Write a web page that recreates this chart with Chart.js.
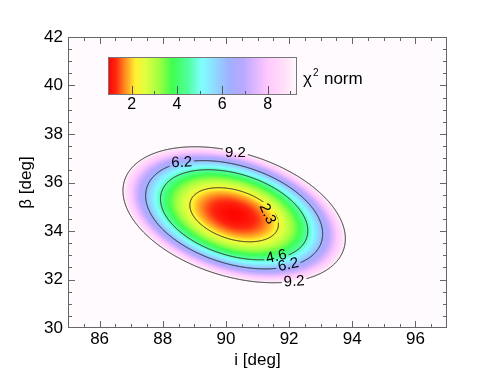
<!DOCTYPE html>
<html><head><meta charset="utf-8">
<script src="https://cdn.jsdelivr.net/npm/chart.js@4/dist/chart.umd.min.js"></script>
<style>html,body{margin:0;padding:0;background:#fff}#wrap{width:497px;height:382px}</style>
</head><body><div id="wrap"><canvas id="c" width="497" height="382"></canvas></div>
<script>
// ---- data ----
const inclination = [85, 86, 87, 88, 89, 90, 91, 92, 93, 94, 95, 96];   // grid columns, i [deg]
const beta = [30, 31, 32, 33, 34, 35, 36, 37, 38, 39];                   // grid rows, beta [deg]
const chi2_b30 = [64.27, 53.96, 45.17, 37.88, 32.10, 27.84, 25.08, 23.83, 24.09, 25.87, 29.15, 33.94];
const chi2_b31 = [50.83, 41.19, 33.06, 26.44, 21.33, 17.73, 15.64, 15.06, 15.99, 18.43, 22.39, 27.85];
const chi2_b32 = [39.76, 30.79, 23.33, 17.38, 12.94, 10.01, 8.58, 8.67, 10.27, 13.38, 18.00, 24.13];
const chi2_b33 = [31.08, 22.78, 15.98, 10.70, 6.93, 4.66, 3.91, 4.67, 6.93, 10.71, 16.00, 22.79];
const chi2_b34 = [24.78, 17.14, 11.02, 6.40, 3.30, 1.70, 1.62, 3.04, 5.98, 10.42, 16.38, 23.84];
const chi2_b35 = [20.86, 13.89, 8.44, 4.49, 2.05, 1.12, 1.71, 3.80, 7.40, 12.52, 19.14, 27.27];
const chi2_b36 = [19.32, 13.02, 8.24, 4.96, 3.19, 2.93, 4.18, 6.94, 11.21, 16.99, 24.28, 33.08];
const chi2_b37 = [20.17, 14.54, 10.42, 7.80, 6.70, 7.11, 9.03, 12.46, 17.40, 23.85, 31.81, 41.28];
const chi2_b38 = [23.40, 18.43, 14.98, 13.04, 12.60, 13.68, 16.27, 20.36, 25.97, 33.09, 41.71, 51.85];
const chi2_b39 = [29.01, 24.71, 21.93, 20.65, 20.88, 22.63, 25.88, 30.65, 36.92, 44.71, 54.00, 64.81];
const chi2 = [chi2_b30, chi2_b31, chi2_b32, chi2_b33, chi2_b34, chi2_b35, chi2_b36, chi2_b37, chi2_b38, chi2_b39];
const contourLevels = [2.3, 4.6, 6.2, 9.2];
const colorbarRange = [0.95, 9.3];
const colorbarTicks = [2, 4, 6, 8];
const xTickLabels = [86, 88, 90, 92, 94, 96];
const yTickLabels = [30, 32, 34, 36, 38, 40, 42];

// ---- styles ----
const FONT = "'Liberation Sans', Arial, Helvetica, sans-serif";
const cmapStops = [
  [0.95, 255, 0, 0], [1.3, 255, 40, 16], [1.7, 255, 140, 32], [2.15, 255, 240, 48],
  [2.6, 224, 255, 64], [3.2, 160, 255, 64], [3.8, 64, 255, 80], [4.5, 80, 255, 160],
  [5.1, 128, 255, 255], [5.7, 144, 216, 255], [6.3, 160, 176, 255], [6.9, 184, 168, 255],
  [7.5, 224, 184, 255], [8.0, 255, 200, 255], [8.75, 255, 224, 248], [9.3, 255, 250, 253]
];
const BG = [255, 250, 253];
function cmap(v) {
  if (!isFinite(v) || v >= cmapStops[cmapStops.length - 1][0]) return BG;
  if (v <= cmapStops[0][0]) return cmapStops[0].slice(1);
  for (let k = 1; k < cmapStops.length; k++) {
    const s1 = cmapStops[k];
    if (v <= s1[0]) {
      const s0 = cmapStops[k - 1];
      const t = (v - s0[0]) / (s1[0] - s0[0]);
      return [s0[1] + t * (s1[1] - s0[1]), s0[2] + t * (s1[2] - s0[2]), s0[3] + t * (s1[3] - s0[3])];
    }
  }
  return BG;
}
function cr(p0, p1, p2, p3, t) {
  return 0.5 * (2 * p1 + (-p0 + p2) * t + (2 * p0 - 5 * p1 + 4 * p2 - p3) * t * t + (-p0 + 3 * p1 - 3 * p2 + p3) * t * t * t);
}
function field(iv, bv) {
  const nx = inclination.length, ny = beta.length;
  const fx = (iv - inclination[0]) / (inclination[1] - inclination[0]);
  const fy = (bv - beta[0]) / (beta[1] - beta[0]);
  if (fx < 0 || fy < 0 || fx > nx - 1 || fy > ny - 1) return Infinity;
  let ix = Math.min(Math.floor(fx), nx - 2), iy = Math.min(Math.floor(fy), ny - 2);
  const tx = fx - ix, ty = fy - iy;
  const cl = (a, n) => Math.max(0, Math.min(n - 1, a));
  const rows = [];
  for (let r = -1; r <= 2; r++) {
    const row = chi2[cl(iy + r, ny)];
    rows.push(cr(row[cl(ix - 1, nx)], row[ix], row[ix + 1], row[cl(ix + 2, nx)], tx));
  }
  return cr(rows[0], rows[1], rows[2], rows[3], ty);
}

const contourLabels = [
  {text: '9.2', i: 90.3, b: 37.25, rot: 0},
  {text: '6.2', i: 88.6, b: 36.86, rot: -3},
  {text: '2.3', i: 91.34, b: 34.72, rot: 66},
  {text: '4.6', i: 91.59, b: 32.98, rot: -12},
  {text: '6.2', i: 91.97, b: 32.64, rot: -12},
  {text: '9.2', i: 92.16, b: 31.95, rot: -4}
];

const mapPlugin = {
  id: 'chi2map',
  beforeDatasetsDraw(chart) {
    const ctx = chart.ctx, a = chart.chartArea;
    const xs = chart.scales.x, ys = chart.scales.y;
    const L = Math.round(a.left), T = Math.round(a.top);
    const W = Math.round(a.right) - L, H = Math.round(a.bottom) - T;
    const off = document.createElement('canvas');
    off.width = W; off.height = H;
    const octx = off.getContext('2d');
    const img = octx.createImageData(W, H);
    const F = new Float64Array(W * H);
    for (let y = 0; y < H; y++) {
      const bv = ys.getValueForPixel(T + y + 0.5);
      for (let x = 0; x < W; x++) {
        const iv = xs.getValueForPixel(L + x + 0.5);
        const v = field(iv, bv);
        F[y * W + x] = isFinite(v) ? v : 1000;
        const c = cmap(v);
        const p = (y * W + x) * 4;
        img.data[p] = c[0]; img.data[p + 1] = c[1]; img.data[p + 2] = c[2]; img.data[p + 3] = 255;
      }
    }
    octx.putImageData(img, 0, 0);
    ctx.drawImage(off, L, T);

    // label boxes (gaps in contour lines)
    ctx.save();
    ctx.font = '15px ' + FONT;
    const boxes = contourLabels.map(l => {
      const cx = xs.getPixelForValue(l.i), cy = ys.getPixelForValue(l.b);
      const w = ctx.measureText(l.text).width + 4, h = 13;
      const ang = l.rot * Math.PI / 180, ca = Math.cos(ang), sa = Math.sin(ang);
      const pts = [[-w / 2, -h / 2], [w / 2, -h / 2], [w / 2, h / 2], [-w / 2, h / 2]].map(p => [cx + p[0] * ca - p[1] * sa, cy + p[0] * sa + p[1] * ca]);
      return {l, cx, cy, ang, pts};
    });
    ctx.beginPath();
    ctx.rect(a.left, a.top, a.right - a.left, a.bottom - a.top);
    boxes.forEach(bx => {
      ctx.moveTo(bx.pts[0][0], bx.pts[0][1]);
      for (let k = 1; k < 4; k++) ctx.lineTo(bx.pts[k][0], bx.pts[k][1]);
      ctx.closePath();
    });
    ctx.clip('evenodd');

    // contour lines (marching squares on the rendered field)
    ctx.strokeStyle = '#2a2a2a';
    ctx.lineWidth = 1;
    ctx.beginPath();
    contourLevels.forEach(lev => {
      for (let y = 0; y < H - 1; y++) {
        for (let x = 0; x < W - 1; x++) {
          const va = F[y * W + x], vb = F[y * W + x + 1], vc = F[(y + 1) * W + x + 1], vd = F[(y + 1) * W + x];
          const pts = [];
          const px = L + x + 0.5, py = T + y + 0.5;
          if ((va > lev) !== (vb > lev)) pts.push([px + (lev - va) / (vb - va), py]);
          if ((vb > lev) !== (vc > lev)) pts.push([px + 1, py + (lev - vb) / (vc - vb)]);
          if ((vd > lev) !== (vc > lev)) pts.push([px + (lev - vd) / (vc - vd), py + 1]);
          if ((va > lev) !== (vd > lev)) pts.push([px, py + (lev - va) / (vd - va)]);
          for (let k = 0; k + 1 < pts.length; k += 2) {
            ctx.moveTo(pts[k][0], pts[k][1]);
            ctx.lineTo(pts[k + 1][0], pts[k + 1][1]);
          }
        }
      }
    });
    ctx.stroke();
    ctx.restore();

    // contour labels
    ctx.save();
    ctx.font = '15px ' + FONT;
    ctx.fillStyle = '#000';
    ctx.textAlign = 'center';
    ctx.textBaseline = 'middle';
    boxes.forEach(bx => {
      ctx.save();
      ctx.translate(bx.cx, bx.cy);
      ctx.rotate(bx.ang);
      ctx.fillText(bx.l.text, 0, 1);
      ctx.restore();
    });
    ctx.restore();

    // colour bar
    const cb = {left: 108, top: 57, width: 189, height: 38};
    ctx.save();
    for (let k = 0; k < cb.width; k++) {
      const v = colorbarRange[0] + (k + 0.5) / cb.width * (colorbarRange[1] - colorbarRange[0]);
      const c = cmap(v);
      ctx.fillStyle = 'rgb(' + c.map(Math.round).join(',') + ')';
      ctx.fillRect(cb.left + k, cb.top, 1, cb.height);
    }
    const cbX = v => cb.left + (v - colorbarRange[0]) / (colorbarRange[1] - colorbarRange[0]) * cb.width;
    ctx.strokeStyle = '#555';
    ctx.lineWidth = 1;
    ctx.beginPath();
    for (let v = 2; v <= colorbarRange[1]; v += 1) {
      const x = Math.round(cbX(v)) + 0.5;
      const len = colorbarTicks.includes(v) ? 9 : 4;
      ctx.moveTo(x, cb.top + cb.height);
      ctx.lineTo(x, cb.top + cb.height - len);
    }
    ctx.stroke();
    ctx.strokeStyle = '#777';
    ctx.strokeRect(cb.left + 0.5, cb.top + 0.5, cb.width - 1, cb.height - 1);
    ctx.fillStyle = '#000';
    ctx.font = '16px ' + FONT;
    ctx.textAlign = 'center';
    ctx.textBaseline = 'top';
    colorbarTicks.forEach(v => ctx.fillText(String(v), cbX(v), cb.top + cb.height + 2));
    ctx.textAlign = 'left';
    ctx.textBaseline = 'alphabetic';
    ctx.font = '17px ' + FONT;
    ctx.fillText('\u03c7', 303, 84);
    const wChi = ctx.measureText('\u03c7').width;
    ctx.font = '10px ' + FONT;
    ctx.fillText('2', 303 + wChi + 1, 76);
    ctx.font = '17px ' + FONT;
    ctx.fillText('norm', 303 + wChi + 1 + 11, 84);
    ctx.restore();
  },
  afterDraw(chart) {
    const ctx = chart.ctx, a = chart.chartArea;
    const xs = chart.scales.x, ys = chart.scales.y;
    ctx.save();
    ctx.strokeStyle = '#666';
    ctx.lineWidth = 1;
    ctx.beginPath();
    for (let v = xs.min + 0.5; v < xs.max; v += 0.5) {
      const x = Math.round(xs.getPixelForValue(v)) + 0.5;
      const len = xTickLabels.includes(v) ? 7 : 4;
      ctx.moveTo(x, a.bottom); ctx.lineTo(x, a.bottom - len);
      ctx.moveTo(x, a.top); ctx.lineTo(x, a.top + len);
    }
    for (let v = ys.min + 0.5; v < ys.max; v += 0.5) {
      const y = Math.round(ys.getPixelForValue(v)) + 0.5;
      const len = yTickLabels.includes(v) ? 7 : 4;
      ctx.moveTo(a.left, y); ctx.lineTo(a.left + len, y);
      ctx.moveTo(a.right, y); ctx.lineTo(a.right - len, y);
    }
    ctx.stroke();
    ctx.strokeRect(Math.round(a.left) + 0.5, Math.round(a.top) + 0.5, Math.round(a.right - a.left) - 1, Math.round(a.bottom - a.top) - 1);
    ctx.restore();
  }
};

Chart.defaults.font.family = FONT;
Chart.defaults.color = '#000';

new Chart(document.getElementById('c'), {
  type: 'scatter',
  data: {datasets: [{data: [], pointRadius: 0}]},
  options: {
    responsive: false,
    animation: false,
    layout: {padding: {left: 0, right: 50, top: 37, bottom: 0}},
    plugins: {legend: {display: false}, tooltip: {enabled: false}},
    scales: {
      x: {
        type: 'linear', min: 85, max: 97,
        afterBuildTicks: s => { s.ticks = xTickLabels.map(v => ({value: v})); },
        afterFit: s => { s.height = 54; },
        grid: {display: false, drawTicks: false},
        border: {display: false},
        ticks: {font: {size: 17}, padding: 1, maxRotation: 0, color: '#000'},
        title: {display: true, text: 'i [deg]', font: {size: 17}, padding: {top: 0, bottom: 11}, color: '#000'}
      },
      y: {
        type: 'linear', min: 30, max: 42,
        afterBuildTicks: s => { s.ticks = yTickLabels.map(v => ({value: v})); },
        afterFit: s => { s.width = 68; },
        grid: {display: false, drawTicks: false},
        border: {display: false},
        ticks: {font: {size: 17}, padding: 5, color: '#000'},
        title: {display: true, text: '\u03b2 [deg]', font: {size: 17}, padding: {top: 16, bottom: 0}, color: '#000'}
      }
    }
  },
  plugins: [mapPlugin]
});
</script>
</body></html>
